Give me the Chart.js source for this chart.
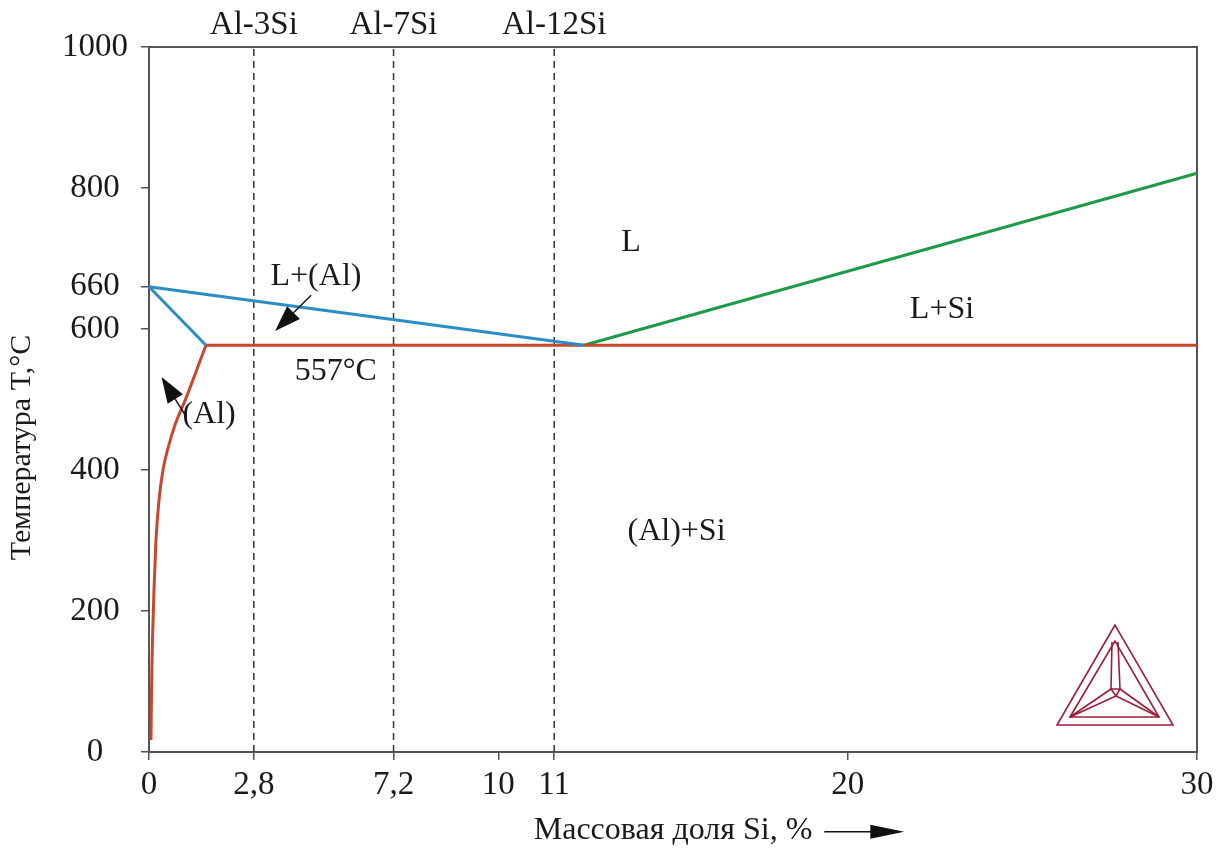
<!DOCTYPE html>
<html>
<head>
<meta charset="utf-8">
<script src="https://cdn.jsdelivr.net/npm/chart.js@4.4.1/dist/chart.umd.min.js"></script>
<style>
  html, body { margin: 0; padding: 0; background: #fff; }
  #wrap { width: 1225px; height: 850px; }
</style>
</head>
<body>
<div id="wrap"><canvas id="diagram" width="1225" height="850"></canvas></div>
<script>
// x = mass fraction of Si, %; y = temperature, °C
const xTickPos    = [0, 3, 7, 10, 11.6, 20, 30];
const xTickLabels = ['0', '2,8', '7,2', '10', '11', '20', '30'];
const yTicks      = [0, 200, 400, 600, 660, 800, 1000];

const alloyX      = [3, 7, 11.6];
const alloyLabels = ['Al-3Si', 'Al-7Si', 'Al-12Si'];

const liquidusAlX = [0, 12.45];
const liquidusAlT = [660, 577];
const solidusX    = [0, 1.63];
const solidusT    = [660, 577];
const solvusX     = [0.057, 0.072, 0.10, 0.143, 0.20, 0.286, 0.40, 0.544, 0.744, 1.06, 1.63];
const solvusT     = [17, 88, 159, 230, 301, 357, 400, 431, 464, 502, 577];
const eutecticX   = [1.63, 30];
const eutecticT   = [577, 577];
const liquidusSiX = [12.45, 30];
const liquidusSiT = [577, 821];

const phaseLabels = ['L', 'L+(Al)', 'L+Si', '557°C', '(Al)', '(Al)+Si'];
const phaseX      = [13.8, 4.78, 22.7, 5.35, 1.72, 15.1];
const phaseT      = [723, 674, 627, 539, 479, 312];

const arrowFromX  = [4.64, 1.06];
const arrowFromT  = [648, 476];
const arrowToX    = [3.61, 0.36];
const arrowToT    = [597, 532];

const FONT = '"Liberation Serif", "Times New Roman", serif';
const INK = '#1a1a1a';
const AXIS = '#555';
const Y_TITLE = 'Температура T,°C';

const pts = (xs, ts) => xs.map((v, i) => ({ x: v, y: ts[i] }));

function curve(data, color) {
  return { data, borderColor: color, borderWidth: 3, pointRadius: 0,
           cubicInterpolationMode: 'monotone', clip: false, order: 1 };
}

const datasets = [
  curve(pts(liquidusAlX, liquidusAlT), '#2b8dc4'),
  curve(pts(solidusX, solidusT), '#2b8dc4'),
  curve(pts(solvusX, solvusT), '#c9472b'),
  curve(pts(eutecticX, eutecticT), '#c9472b'),
  curve(pts(liquidusSiX, liquidusSiT), '#1f9a4b')
];
alloyX.forEach(v => {
  datasets.push({ data: pts([v, v], [0, 1000]), borderColor: '#333', borderWidth: 1.5,
                  borderDash: [7, 5], pointRadius: 0, order: 2 });
});

// phase labels, arrows, axis title extras and the logo
const annotate = {
  id: 'annotate',
  afterDraw(chart) {
    const { ctx, chartArea } = chart;
    const x = chart.scales.x, y = chart.scales.y;
    ctx.save();
    ctx.fillStyle = INK;
    ctx.font = '32px ' + FONT;
    ctx.textAlign = 'center';
    ctx.textBaseline = 'middle';
    phaseLabels.forEach((t, i) => {
      ctx.fillText(t, x.getPixelForValue(phaseX[i]), y.getPixelForValue(phaseT[i]));
    });

    // y axis title, a little below the middle of the axis as in the original
    ctx.save();
    ctx.font = '30px ' + FONT;
    ctx.translate(22, (chartArea.top + chartArea.bottom) / 2 + 48);
    ctx.rotate(-Math.PI / 2);
    ctx.fillText(Y_TITLE, 0, 0);
    ctx.restore();

    // leader arrows
    ctx.strokeStyle = '#111';
    ctx.fillStyle = '#111';
    arrowFromX.forEach((_, i) => {
      const x0 = x.getPixelForValue(arrowFromX[i]), y0 = y.getPixelForValue(arrowFromT[i]);
      const x1 = x.getPixelForValue(arrowToX[i]),   y1 = y.getPixelForValue(arrowToT[i]);
      const a = Math.atan2(y1 - y0, x1 - x0), c = Math.cos(a), s = Math.sin(a);
      const head = 26, half = 9;
      const bx = x1 - head * c, by = y1 - head * s;
      ctx.lineWidth = 1.5;
      ctx.beginPath(); ctx.moveTo(x0, y0); ctx.lineTo(bx, by); ctx.stroke();
      ctx.beginPath();
      ctx.moveTo(x1, y1);
      ctx.lineTo(bx + half * s, by - half * c);
      ctx.lineTo(bx - half * s, by + half * c);
      ctx.closePath(); ctx.fill();
    });

    // arrow after the x axis title
    ctx.font = '32px ' + FONT;
    const tw = ctx.measureText(x.options.title.text).width;
    const tx = (x.left + x.right) / 2 + tw / 2 + 12;
    const ty = x.bottom - 32 * 1.2 / 2 + 1;
    ctx.lineWidth = 1.5;
    ctx.beginPath(); ctx.moveTo(tx, ty); ctx.lineTo(tx + 50, ty); ctx.stroke();
    ctx.beginPath();
    ctx.moveTo(tx + 80, ty); ctx.lineTo(tx + 46, ty - 7); ctx.lineTo(tx + 46, ty + 7);
    ctx.closePath(); ctx.fill();

    // logo in the lower right corner
    const cx = chartArea.right - 82, bb = chartArea.bottom - 27;
    ctx.strokeStyle = '#9e1d3d';
    ctx.lineWidth = 1.6;
    const poly = p => {
      ctx.beginPath(); ctx.moveTo(cx + p[0][0], bb + p[0][1]);
      for (let k = 1; k < p.length; k++) ctx.lineTo(cx + p[k][0], bb + p[k][1]);
      ctx.closePath(); ctx.stroke();
    };
    const seg = (a, b) => {
      ctx.beginPath(); ctx.moveTo(cx + a[0], bb + a[1]); ctx.lineTo(cx + b[0], bb + b[1]); ctx.stroke();
    };
    poly([[0, -100], [-58, 0], [58, 0]]);
    poly([[0, -84], [-45, -8], [44, -8]]);
    const cL = [-4, -36], cR = [5, -36], cB = [1, -29];
    poly([cL, cR, cB]);
    seg([-3, -83], cL); seg([3, -83], cR);
    seg([-45, -8], cL); seg([-45, -8], cB);
    seg([44, -8], cR); seg([44, -8], cB);
    ctx.restore();
  }
};

new Chart(document.getElementById('diagram'), {
  type: 'line',
  data: { datasets },
  plugins: [annotate],
  options: {
    responsive: false,
    animation: false,
    layout: { padding: 0 },
    plugins: { legend: { display: false }, tooltip: { enabled: false } },
    scales: {
      x: {
        type: 'linear', position: 'bottom', min: 0, max: 30,
        afterFit: s => { s.height = 98; },
        afterBuildTicks: s => { s.ticks = xTickPos.map(v => ({ value: v })); },
        ticks: { autoSkip: false, maxRotation: 0, padding: 6, color: INK,
                 font: { family: FONT, size: 33 },
                 callback: (v, i) => xTickLabels[i] },
        grid: { drawOnChartArea: false, tickLength: 8, color: AXIS, lineWidth: 1.5 },
        border: { color: AXIS, width: 2 },
        title: { display: true, text: 'Массовая доля Si, %', color: INK, padding: 0,
                 font: { family: FONT, size: 32 } }
      },
      x2: {
        type: 'linear', position: 'top', min: 0, max: 30,
        afterFit: s => { s.height = 47; },
        afterBuildTicks: s => { s.ticks = alloyX.map(v => ({ value: v })); },
        ticks: { autoSkip: false, maxRotation: 0, padding: 2, color: INK,
                 font: { family: FONT, size: 33 },
                 callback: (v, i) => alloyLabels[i] },
        grid: { drawOnChartArea: false, drawTicks: false },
        border: { color: AXIS, width: 2 }
      },
      y: {
        type: 'linear', position: 'left', min: 0, max: 1000,
        afterFit: s => { s.width = 149; },
        afterBuildTicks: s => { s.ticks = yTicks.map(v => ({ value: v })); },
        ticks: { autoSkip: false, padding: 13, crossAlign: 'center', color: INK,
                 font: { family: FONT, size: 33 },
                 callback: v => String(v) },
        grid: { drawOnChartArea: false, tickLength: 8, color: AXIS, lineWidth: 1.5 },
        border: { color: AXIS, width: 2 }
      },
      y2: {
        type: 'linear', position: 'right', min: 0, max: 1000,
        afterFit: s => { s.width = 28; },
        ticks: { display: false },
        grid: { drawOnChartArea: false, drawTicks: false },
        border: { color: AXIS, width: 2 }
      }
    }
  }
});
</script>
</body>
</html>
